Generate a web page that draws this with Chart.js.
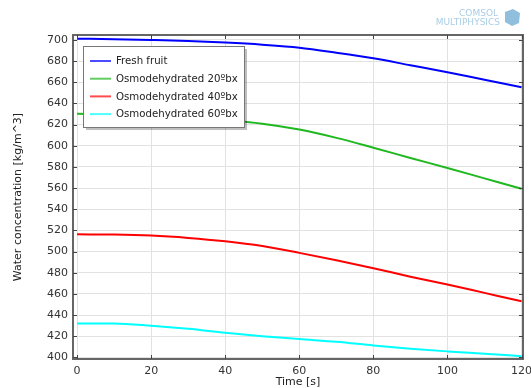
<!DOCTYPE html>
<html>
<head>
<meta charset="utf-8">
<script src="https://cdn.jsdelivr.net/npm/chart.js@4"></script>
<style>
  html, body { margin: 0; padding: 0; background: #fff; }
  #wrap { width: 531px; height: 388px; position: relative; }
</style>
</head>
<body>
<div id="wrap"><canvas id="chart"></canvas></div>
<script>
// time axis [s]
const times = [0, 10, 20, 30, 40, 50, 60, 70, 80, 90, 100, 110, 120];
const freshFruit = [701.2, 700.8, 700.0, 699.0, 697.5, 695.5, 692.7, 688.0, 682.7, 676.1, 669.5, 662.4, 655.4];
const osmo20 = [630.2, 629.8, 628.5, 626.8, 624.3, 620.8, 615.3, 607.5, 598.2, 588.5, 579.0, 569.2, 559.4];
const osmo40 = [516.3, 516.1, 515.1, 512.9, 509.7, 505.2, 498.8, 491.8, 484.3, 476.3, 468.9, 461.0, 453.1];
const osmo60 = [432.1, 432.0, 429.9, 427.0, 423.3, 420.1, 417.3, 414.8, 411.3, 408.2, 405.7, 403.5, 401.2];
const seriesNames = ['Fresh fruit', 'Osmodehydrated 20ºbx', 'Osmodehydrated 40ºbx', 'Osmodehydrated 60ºbx'];
const seriesColors = ['#0000ff', '#1fb81f', '#ff0000', '#00ffff'];
const xTicks = [0, 20, 40, 60, 80, 100, 120];
const yTicks = [400, 420, 440, 460, 480, 500, 520, 540, 560, 580, 600, 620, 640, 660, 680, 700];

const FONT = 'DejaVu Sans';
const toPoints = (vals) => vals.map((v, i) => ({ x: times[i], y: v }));

// axis box with inward ticks, legend box and logo (COMSOL style)
const comsolFrame = {
    id: 'comsolFrame',
    afterDraw(chart) {
        const ctx = chart.ctx;
        const a = chart.chartArea;
        const xs = chart.scales.x;
        const ys = chart.scales.y;
        ctx.save();
        ctx.strokeStyle = '#666';
        ctx.lineWidth = 2;
        ctx.strokeRect(a.left, a.top, a.right - a.left, a.bottom - a.top);
        ctx.lineWidth = 1;
        ctx.strokeStyle = '#444';
        ctx.beginPath();
        xTicks.forEach((t) => {
            const px = Math.round(xs.getPixelForValue(t)) + 0.5;
            ctx.moveTo(px, a.bottom); ctx.lineTo(px, a.bottom - 4);
            ctx.moveTo(px, a.top); ctx.lineTo(px, a.top + 4);
        });
        yTicks.forEach((t) => {
            const py = Math.round(ys.getPixelForValue(t)) + 0.5;
            ctx.moveTo(a.left, py); ctx.lineTo(a.left + 4, py);
            ctx.moveTo(a.right, py); ctx.lineTo(a.right - 4, py);
        });
        ctx.stroke();

        // legend
        const lx = 83, ly = 46, lw = 161, lh = 81;
        ctx.fillStyle = 'rgba(0,0,0,0.25)';
        ctx.fillRect(lx + 3, ly + 3, lw, lh);
        ctx.fillStyle = '#fff';
        ctx.fillRect(lx, ly, lw, lh);
        ctx.strokeStyle = '#777';
        ctx.lineWidth = 1;
        ctx.strokeRect(lx + 0.5, ly + 0.5, lw, lh);
        ctx.font = '10.2px "' + FONT + '"';
        ctx.textBaseline = 'middle';
        ctx.textAlign = 'left';
        chart.data.datasets.forEach((ds, i) => {
            const y = 61 + i * 17.7;
            ctx.strokeStyle = ds.borderColor;
            ctx.globalAlpha = 0.7;
            ctx.lineWidth = 2;
            ctx.beginPath();
            ctx.moveTo(90, y); ctx.lineTo(111, y);
            ctx.stroke();
            ctx.globalAlpha = 1;
            ctx.fillStyle = '#222';
            ctx.fillText(ds.label, 116, y + 0.5);
        });

        // logo
        ctx.fillStyle = '#a9cde4';
        ctx.textAlign = 'right';
        ctx.font = '9px "' + FONT + '"';
        ctx.fillText('COMSOL', 498, 14);
        ctx.fillText('MULTIPHYSICS', 500, 23);
        ctx.fillStyle = '#8fbfdc';
        ctx.beginPath();
        ctx.moveTo(505, 12); ctx.lineTo(513, 9); ctx.lineTo(520, 13);
        ctx.lineTo(519, 23); ctx.lineTo(512, 26); ctx.lineTo(505, 22);
        ctx.closePath();
        ctx.fill();
        ctx.restore();
    }
};

new Chart(document.getElementById('chart'), {
    type: 'line',
    data: {
        datasets: [freshFruit, osmo20, osmo40, osmo60].map((vals, i) => ({
            label: seriesNames[i],
            data: toPoints(vals),
            borderColor: seriesColors[i],
            backgroundColor: seriesColors[i],
            borderWidth: 2,
            pointRadius: 0,
            tension: 0.4,
            cubicInterpolationMode: 'monotone',
            fill: false,
        })),
    },
    options: {
        responsive: true,
        maintainAspectRatio: false,
        animation: false,
        layout: { padding: { top: 35, right: 8, left: 0, bottom: 0 } },
        plugins: {
            legend: { display: false },
            tooltip: { enabled: false },
        },
        scales: {
            x: {
                type: 'linear',
                min: -1.1,
                max: 120.4,
                afterBuildTicks: (s) => { s.ticks = xTicks.map((v) => ({ value: v })); },
                afterFit: (s) => { s.height = 29; s.paddingLeft = 0; s.paddingRight = 0; },
                grid: { color: '#e2e2e2', drawTicks: false },
                border: { display: false },
                ticks: { padding: 6, color: '#333', font: { family: FONT, size: 11 }, maxRotation: 0 },
                title: {
                    display: true, text: 'Time [s]', color: '#222',
                    font: { family: FONT, size: 11, lineHeight: 1 }, padding: { top: 0, bottom: 0 },
                },
            },
            y: {
                min: 398.5,
                max: 704.7,
                afterBuildTicks: (s) => { s.ticks = yTicks.map((v) => ({ value: v })); },
                afterFit: (s) => { s.width = 73; s.paddingTop = 0; s.paddingBottom = 0; },
                grid: { color: '#e2e2e2', drawTicks: false },
                border: { display: false },
                ticks: { padding: 5, color: '#333', font: { family: FONT, size: 11 } },
                title: {
                    display: true, text: 'Water concentration [kg/m^3]', color: '#222',
                    font: { family: FONT, size: 11, lineHeight: 1 }, padding: { top: 13, bottom: 0 },
                },
            },
        },
    },
    plugins: [comsolFrame],
});
</script>
</body>
</html>
